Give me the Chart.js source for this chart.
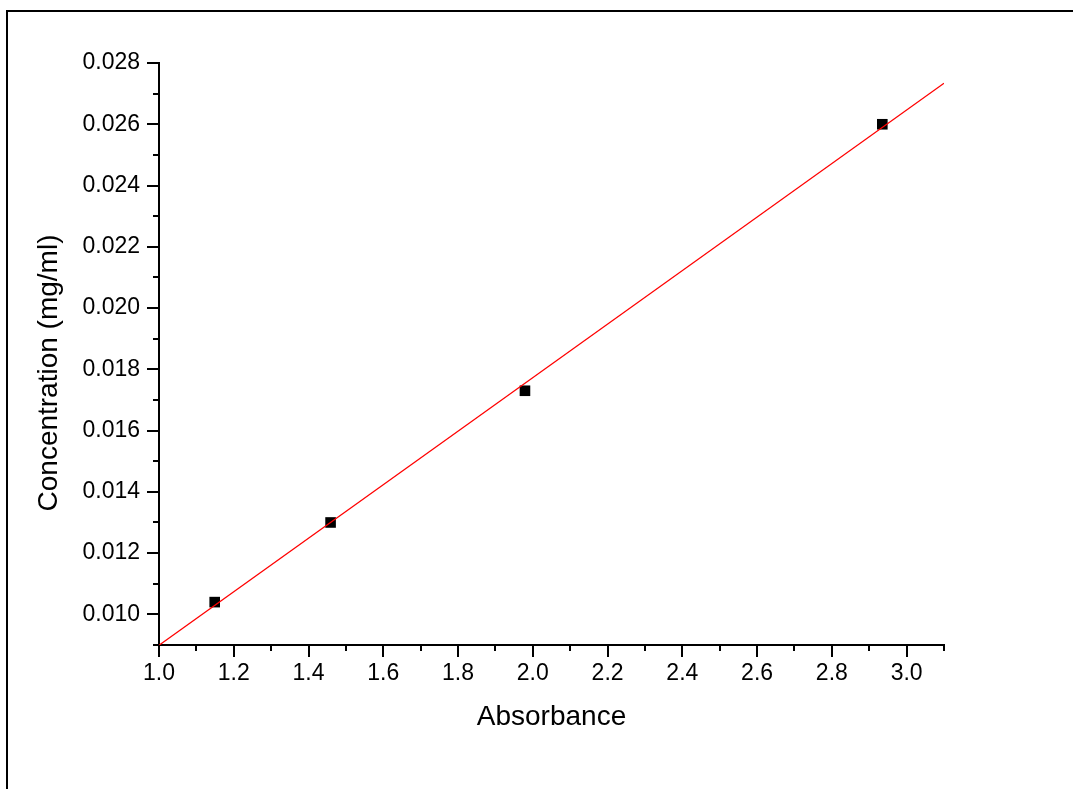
<!DOCTYPE html>
<html>
<head>
<meta charset="utf-8">
<title>Concentration vs Absorbance</title>
<script src="https://cdn.jsdelivr.net/npm/chart.js@4.4.0/dist/chart.umd.min.js"></script>
<style>
    html, body { margin: 0; padding: 0; background: #fff; overflow: hidden; }
    #wrap { position: relative; width: 1073px; height: 789px; }
</style>
</head>
<body>
<div id="wrap"><canvas id="calibChart" width="1073" height="789"></canvas></div>
<script>
// Measured points
const absorbance = [1.149, 1.459, 1.979, 2.935];
const concentration = [0.0104, 0.0130, 0.0173, 0.0260];

// Red fit line, end points
const fitX = [1.0, 3.1];
const fitY = [0.00899, 0.02734];

// Axis ranges and steps (major labels every second step)
const xRange = [1.0, 3.1];
const xStep = 0.1;
const yRange = [0.009, 0.028];
const yStep = 0.001;

const yTitle = 'Concentration (mg/ml)';
const FONT = 'Arial, "Liberation Sans", sans-serif';

function isMajor(v, step) {
    return Math.round(v / step) % 2 === 0;
}

// Origin-style frame, outward ticks (long on labels, short in between)
// and the y title, which sits a bit below the axis middle in the original
const originTicks = {
    id: 'originTicks',
    beforeDraw(chart) {
        const ctx = chart.ctx;
        ctx.save();
        ctx.strokeStyle = '#000';
        ctx.lineWidth = 2;
        ctx.beginPath();
        ctx.moveTo(7, 789);
        ctx.lineTo(7, 11);
        ctx.lineTo(1073, 11);
        ctx.stroke();
        ctx.restore();
    },
    afterDraw(chart) {
        const ctx = chart.ctx;
        const xs = chart.scales.x;
        const ys = chart.scales.y;
        ctx.save();
        ctx.strokeStyle = '#000';
        ctx.lineWidth = 2;
        ctx.beginPath();
        xs.ticks.forEach(t => {
            const px = Math.round(xs.getPixelForValue(t.value));
            const len = isMajor(t.value, xStep) ? 12 : 6;
            ctx.moveTo(px, xs.top);
            ctx.lineTo(px, xs.top + len);
        });
        ys.ticks.forEach(t => {
            const py = Math.round(ys.getPixelForValue(t.value));
            const len = isMajor(t.value, yStep) ? 12 : 6;
            ctx.moveTo(ys.right, py);
            ctx.lineTo(ys.right - len, py);
        });
        ctx.stroke();

        // y axis title
        ctx.translate(49, (ys.top + ys.bottom) / 2 + 19);
        ctx.rotate(-Math.PI / 2);
        ctx.fillStyle = '#000';
        ctx.font = '28px ' + FONT;
        ctx.textAlign = 'center';
        ctx.textBaseline = 'middle';
        ctx.fillText(yTitle, 0, 0);
        ctx.restore();
    }
};

new Chart(document.getElementById('calibChart'), {
    type: 'scatter',
    data: {
        datasets: [
            {
                type: 'line',
                label: 'Linear fit',
                data: fitX.map((x, i) => ({ x: x, y: fitY[i] })),
                borderColor: '#ff0000',
                borderWidth: 1.2,
                pointRadius: 0,
                fill: false,
                order: 0
            },
            {
                label: 'Data',
                data: absorbance.map((x, i) => ({ x: x, y: concentration[i] })),
                pointStyle: 'rect',
                pointRadius: 7.5,
                pointBackgroundColor: '#000',
                pointBorderWidth: 0,
                order: 1
            }
        ]
    },
    options: {
        responsive: false,
        animation: false,
        layout: { padding: { left: 32, top: 63, right: 129, bottom: 55 } },
        plugins: {
            legend: { display: false },
            tooltip: { enabled: false }
        },
        scales: {
            x: {
                type: 'linear',
                min: xRange[0],
                max: xRange[1],
                afterFit(scale) { scale.height = 89; },
                grid: { display: false, drawTicks: false },
                border: { display: true, color: '#000', width: 2 },
                ticks: {
                    stepSize: xStep,
                    autoSkip: false,
                    maxRotation: 0,
                    padding: 15,
                    color: '#000',
                    font: { family: FONT, size: 23 },
                    callback: v => isMajor(v, xStep) ? v.toFixed(1) : ''
                },
                title: {
                    display: true,
                    text: 'Absorbance',
                    color: '#000',
                    padding: 0,
                    font: { family: FONT, size: 28 }
                }
            },
            y: {
                type: 'linear',
                min: yRange[0],
                max: yRange[1],
                afterFit(scale) { scale.width = 127; },
                grid: { display: false, drawTicks: false },
                border: { display: true, color: '#000', width: 2 },
                ticks: {
                    stepSize: yStep,
                    autoSkip: false,
                    padding: 19,
                    color: '#000',
                    font: { family: FONT, size: 23 },
                    callback: v => isMajor(v, yStep) ? v.toFixed(3) : ''
                }
            }
        }
    },
    plugins: [originTicks]
});
</script>
</body>
</html>
